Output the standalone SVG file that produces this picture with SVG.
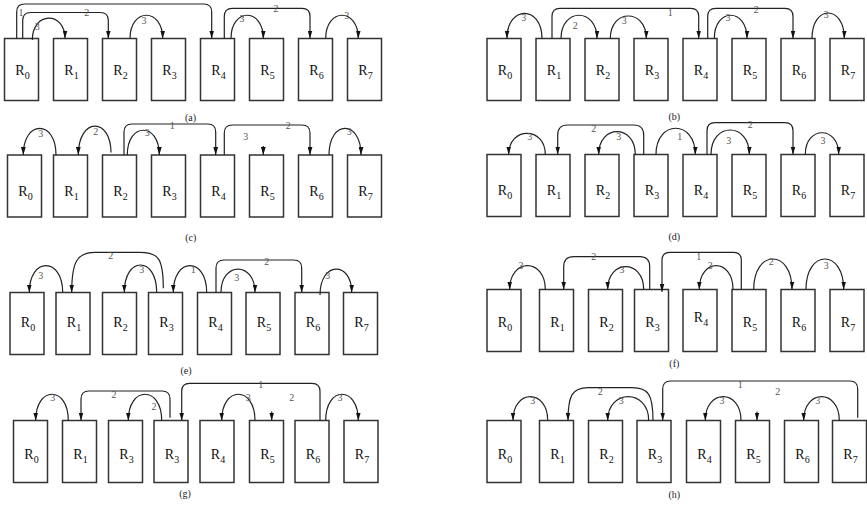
<svg xmlns="http://www.w3.org/2000/svg" width="867" height="506" viewBox="0 0 867 506">
<style>
.bx{fill:#fff;stroke:#333;stroke-width:1.5}
.nl{font-family:"Liberation Serif","Times New Roman","DejaVu Serif",serif;font-size:14px;fill:#111;text-anchor:middle}
.sb{font-size:10px}
.el{font-family:"Liberation Serif","Times New Roman","DejaVu Serif",serif;font-size:10px;fill:#555;text-anchor:middle}
.cap{font-family:"Liberation Serif","Times New Roman","DejaVu Serif",serif;font-size:10px;fill:#222;text-anchor:middle}
.c{fill:none;stroke:#222;stroke-width:1.2;marker-end:url(#ah)}
</style>
<defs>
<marker id="ah" viewBox="0 0 10 6" refX="10" refY="3" markerWidth="8" markerHeight="5" orient="auto" markerUnits="userSpaceOnUse"><path d="M0,0 L10,3 L0,6 z" fill="#111"/></marker>
</defs>
<rect width="867" height="506" fill="#fff"/>

<!-- (a) -->
<g id="panel-a">
<g id="a-R0"><rect class="bx" x="4.5" y="38.5" width="34" height="62"/><text class="nl" x="22.5" y="75">R<tspan class="sb" dy="4">0</tspan></text></g>
<g id="a-R1"><rect class="bx" x="53.5" y="38.5" width="34" height="62"/><text class="nl" x="71.5" y="75">R<tspan class="sb" dy="4">1</tspan></text></g>
<g id="a-R2"><rect class="bx" x="102.5" y="38.5" width="34" height="62"/><text class="nl" x="120.5" y="75">R<tspan class="sb" dy="4">2</tspan></text></g>
<g id="a-R3"><rect class="bx" x="151.5" y="38.5" width="34" height="62"/><text class="nl" x="169.5" y="75">R<tspan class="sb" dy="4">3</tspan></text></g>
<g id="a-R4"><rect class="bx" x="200.5" y="38.5" width="34" height="62"/><text class="nl" x="218.5" y="75">R<tspan class="sb" dy="4">4</tspan></text></g>
<g id="a-R5"><rect class="bx" x="249.5" y="38.5" width="34" height="62"/><text class="nl" x="267.5" y="75">R<tspan class="sb" dy="4">5</tspan></text></g>
<g id="a-R6"><rect class="bx" x="298.5" y="38.5" width="34" height="62"/><text class="nl" x="316.5" y="75">R<tspan class="sb" dy="4">6</tspan></text></g>
<g id="a-R7"><rect class="bx" x="347.5" y="38.5" width="34" height="62"/><text class="nl" x="365.5" y="75">R<tspan class="sb" dy="4">7</tspan></text></g>
<g id="a-connectors">
<path class="c" d="M16.7 38.5 V12 Q16.7 4 24.7 4 H203.7 Q211.7 4 211.7 12 V38.5"/>
<path class="c" d="M22.7 38.5 V20.5 Q22.7 12.5 30.7 12.5 H100.3 Q108.3 12.5 108.3 20.5 V38.5"/>
<path class="c" d="M32.3 40 C32.3 11.2 65 11.2 65 38.5"/>
<path class="c" d="M130 38.5 C130 7.5 162.7 7.5 162.7 38.5"/>
<path class="c" d="M224.3 38.5 V16.3 Q224.3 8.3 232.3 8.3 H302 Q310 8.3 310 16.3 V38.5"/>
<path class="c" d="M231 38.5 C231 7.5 263.3 7.5 263.3 38.5"/>
<path class="c" d="M325.7 38.5 C325.7 7.5 358.3 7.5 358.3 38.5"/>
<text class="el" x="21" y="15.5">1</text>
<text class="el" x="86.7" y="16.2">2</text>
<text class="el" x="37.3" y="30.2">3</text>
<text class="el" x="144" y="23.5">3</text>
<text class="el" x="276" y="11.8">2</text>
<text class="el" x="242" y="21.8">3</text>
<text class="el" x="346.7" y="18.5">3</text>
</g>
<text class="cap" x="190.5" y="120.5">(a)</text>
</g>

<!-- (b) -->
<g id="panel-b">
<g id="b-R0"><rect class="bx" x="487" y="38.5" width="34" height="62"/><text class="nl" x="505" y="75">R<tspan class="sb" dy="4">0</tspan></text></g>
<g id="b-R1"><rect class="bx" x="536" y="38.5" width="34" height="62"/><text class="nl" x="554" y="75">R<tspan class="sb" dy="4">1</tspan></text></g>
<g id="b-R2"><rect class="bx" x="585" y="38.5" width="34" height="62"/><text class="nl" x="603" y="75">R<tspan class="sb" dy="4">2</tspan></text></g>
<g id="b-R3"><rect class="bx" x="634" y="38.5" width="34" height="62"/><text class="nl" x="652" y="75">R<tspan class="sb" dy="4">3</tspan></text></g>
<g id="b-R4"><rect class="bx" x="683" y="38.5" width="34" height="62"/><text class="nl" x="701" y="75">R<tspan class="sb" dy="4">4</tspan></text></g>
<g id="b-R5"><rect class="bx" x="732" y="38.5" width="34" height="62"/><text class="nl" x="750" y="75">R<tspan class="sb" dy="4">5</tspan></text></g>
<g id="b-R6"><rect class="bx" x="781" y="38.5" width="34" height="62"/><text class="nl" x="799" y="75">R<tspan class="sb" dy="4">6</tspan></text></g>
<g id="b-R7"><rect class="bx" x="830" y="38.5" width="34" height="62"/><text class="nl" x="848" y="75">R<tspan class="sb" dy="4">7</tspan></text></g>
<g id="b-connectors">
<path class="c" d="M542 38.5 C542 4.9 507 4.9 507 38.5"/>
<path class="c" d="M552 38.5 V16.3 Q552 8.3 560 8.3 H690.7 Q698.7 8.3 698.7 16.3 V38.5"/>
<path class="c" d="M561 38.5 C561 7.5 597 7.5 597 38.5"/>
<path class="c" d="M610.3 38.5 C610.3 8.5 646.3 8.5 646.3 38.5"/>
<path class="c" d="M707.7 38.5 V16.3 Q707.7 8.3 715.7 8.3 H785 Q793 8.3 793 16.3 V38.5"/>
<path class="c" d="M714.3 38.5 C714.3 7.5 747 7.5 747 38.5"/>
<path class="c" d="M812 38.5 C812 4.5 844.3 4.5 844.3 38.5"/>
<text class="el" x="523.7" y="20.8">3</text>
<text class="el" x="670.3" y="16.2">1</text>
<text class="el" x="575.3" y="28.5">2</text>
<text class="el" x="624.3" y="24.2">3</text>
<text class="el" x="756.3" y="12.8">2</text>
<text class="el" x="728" y="20.8">3</text>
<text class="el" x="826.3" y="17.5">3</text>
</g>
<text class="cap" x="674.3" y="119.5">(b)</text>
</g>

<!-- (c) -->
<g id="panel-c">
<g id="c-R0"><rect class="bx" x="7.5" y="155" width="34" height="62"/><text class="nl" x="25.5" y="196">R<tspan class="sb" dy="4">0</tspan></text></g>
<g id="c-R1"><rect class="bx" x="53.5" y="155" width="34" height="62"/><text class="nl" x="71.5" y="196">R<tspan class="sb" dy="4">1</tspan></text></g>
<g id="c-R2"><rect class="bx" x="102.5" y="155" width="34" height="62"/><text class="nl" x="120.5" y="196">R<tspan class="sb" dy="4">2</tspan></text></g>
<g id="c-R3"><rect class="bx" x="151.5" y="155" width="34" height="62"/><text class="nl" x="169.5" y="196">R<tspan class="sb" dy="4">3</tspan></text></g>
<g id="c-R4"><rect class="bx" x="200.5" y="155" width="34" height="62"/><text class="nl" x="218.5" y="196">R<tspan class="sb" dy="4">4</tspan></text></g>
<g id="c-R5"><rect class="bx" x="249.5" y="155" width="34" height="62"/><text class="nl" x="267.5" y="196">R<tspan class="sb" dy="4">5</tspan></text></g>
<g id="c-R6"><rect class="bx" x="298.5" y="155" width="34" height="62"/><text class="nl" x="316.5" y="196">R<tspan class="sb" dy="4">6</tspan></text></g>
<g id="c-R7"><rect class="bx" x="347.5" y="155" width="34" height="62"/><text class="nl" x="365.5" y="196">R<tspan class="sb" dy="4">7</tspan></text></g>
<g id="c-connectors">
<path class="c" d="M56 155 C56 119.4 23.3 119.4 23.3 155"/>
<path class="c" d="M111 152.5 C111 117 78.3 117 78.3 155"/>
<path class="c" d="M124 155 V132 Q124 124 132 124 H207.7 Q215.7 124 215.7 132 V155"/>
<path class="c" d="M127.3 155 C127.3 122 159.3 122 159.3 155"/>
<path class="c" d="M224.3 155 V133 Q224.3 125 232.3 125 H302 Q310 125 310 133 V155"/>
<path class="c" d="M263.3 146 V155"/>
<path class="c" d="M329 155 C329 119.4 361 119.4 361 155"/>
<text class="el" x="40.7" y="136.8">3</text>
<text class="el" x="95.7" y="134.5">2</text>
<text class="el" x="172.3" y="128.5">1</text>
<text class="el" x="147.3" y="136.2">3</text>
<text class="el" x="288.3" y="128.5">2</text>
<text class="el" x="245.7" y="140.2">3</text>
<text class="el" x="349.3" y="135.2">3</text>
</g>
<text class="cap" x="190.7" y="240.8">(c)</text>
</g>

<!-- (d) -->
<g id="panel-d">
<g id="d-R0"><rect class="bx" x="487" y="154.5" width="34" height="62"/><text class="nl" x="505" y="195">R<tspan class="sb" dy="4">0</tspan></text></g>
<g id="d-R1"><rect class="bx" x="536" y="154.5" width="34" height="62"/><text class="nl" x="554" y="195">R<tspan class="sb" dy="4">1</tspan></text></g>
<g id="d-R2"><rect class="bx" x="585" y="154.5" width="34" height="62"/><text class="nl" x="603" y="195">R<tspan class="sb" dy="4">2</tspan></text></g>
<g id="d-R3"><rect class="bx" x="634" y="154.5" width="34" height="62"/><text class="nl" x="652" y="195">R<tspan class="sb" dy="4">3</tspan></text></g>
<g id="d-R4"><rect class="bx" x="683" y="154.5" width="34" height="62"/><text class="nl" x="701" y="195">R<tspan class="sb" dy="4">4</tspan></text></g>
<g id="d-R5"><rect class="bx" x="732" y="154.5" width="34" height="62"/><text class="nl" x="750" y="195">R<tspan class="sb" dy="4">5</tspan></text></g>
<g id="d-R6"><rect class="bx" x="781" y="154.5" width="34" height="62"/><text class="nl" x="799" y="195">R<tspan class="sb" dy="4">6</tspan></text></g>
<g id="d-R7"><rect class="bx" x="830" y="154.5" width="34" height="62"/><text class="nl" x="848" y="195">R<tspan class="sb" dy="4">7</tspan></text></g>
<g id="d-connectors">
<path class="c" d="M545.3 154.5 C545.3 126.2 508.7 126.2 508.7 154.5"/>
<path class="c" d="M643.7 154.5 V135 Q643.7 125 633.7 125 H567.7 Q557.7 125 557.7 135 V154.5"/>
<path class="c" d="M635.3 154.5 C635.3 124.1 598.7 124.1 598.7 154.5"/>
<path class="c" d="M656 154.5 C656 119.5 695.3 119.5 695.3 154.5"/>
<path class="c" d="M707 154.5 V130.7 Q707 122.7 715 122.7 H785 Q793 122.7 793 130.7 V154.5"/>
<path class="c" d="M711 154.5 C711 121.8 749.3 121.8 749.3 154.5"/>
<path class="c" d="M805.3 154.5 C805.3 125.5 838.7 125.5 838.7 154.5"/>
<text class="el" x="529.7" y="140.2">3</text>
<text class="el" x="593.7" y="131.8">2</text>
<text class="el" x="618.7" y="140.2">3</text>
<text class="el" x="679.7" y="140.2">1</text>
<text class="el" x="750.3" y="127.5">2</text>
<text class="el" x="728.7" y="144.2">3</text>
<text class="el" x="823" y="144.2">3</text>
</g>
<text class="cap" x="674.3" y="240.2">(d)</text>
</g>

<!-- (e) -->
<g id="panel-e">
<g id="e-R0"><rect class="bx" x="10" y="292.5" width="34" height="62"/><text class="nl" x="28" y="327">R<tspan class="sb" dy="4">0</tspan></text></g>
<g id="e-R1"><rect class="bx" x="56" y="292.5" width="34" height="62"/><text class="nl" x="74" y="327">R<tspan class="sb" dy="4">1</tspan></text></g>
<g id="e-R2"><rect class="bx" x="102.5" y="292.5" width="34" height="62"/><text class="nl" x="120.5" y="327">R<tspan class="sb" dy="4">2</tspan></text></g>
<g id="e-R3"><rect class="bx" x="148.5" y="292.5" width="34" height="62"/><text class="nl" x="166.5" y="327">R<tspan class="sb" dy="4">3</tspan></text></g>
<g id="e-R4"><rect class="bx" x="197.5" y="292.5" width="34" height="62"/><text class="nl" x="215.5" y="327">R<tspan class="sb" dy="4">4</tspan></text></g>
<g id="e-R5"><rect class="bx" x="246" y="292.5" width="34" height="62"/><text class="nl" x="264" y="327">R<tspan class="sb" dy="4">5</tspan></text></g>
<g id="e-R6"><rect class="bx" x="295" y="292.5" width="34" height="62"/><text class="nl" x="313" y="327">R<tspan class="sb" dy="4">6</tspan></text></g>
<g id="e-R7"><rect class="bx" x="343.5" y="292.5" width="34" height="62"/><text class="nl" x="361.5" y="327">R<tspan class="sb" dy="4">7</tspan></text></g>
<g id="e-connectors">
<path class="c" d="M62.7 292.5 C62.7 256.8 29.3 256.8 29.3 292.5"/>
<path class="c" d="M163.3 288.3 C163.3 258 158 252.3 140 252.3 H95 C77 252.3 71.7 262 71.7 292.5"/>
<path class="c" d="M156.7 292.5 C156.7 255.8 124.3 255.8 124.3 292.5"/>
<path class="c" d="M206.7 292.5 C206.7 256.8 173.3 256.8 173.3 292.5"/>
<path class="c" d="M216 292.5 V268 Q216 260 224 260 H293.7 Q301.7 260 301.7 268 V292.5"/>
<path class="c" d="M221 292.5 C221 261.2 255 261.2 255 292.5"/>
<path class="c" d="M320 295 C320 260.8 351.7 260.8 351.7 292.5"/>
<text class="el" x="40.7" y="278.5">3</text>
<text class="el" x="110.7" y="259.2">2</text>
<text class="el" x="141.7" y="272.5">3</text>
<text class="el" x="193.3" y="272.5">1</text>
<text class="el" x="266.7" y="265.2">2</text>
<text class="el" x="236.7" y="280.8">3</text>
<text class="el" x="327.7" y="278.5">3</text>
</g>
<text class="cap" x="186" y="373.5">(e)</text>
</g>

<!-- (f) -->
<g id="panel-f">
<g id="f-R0"><rect class="bx" x="487" y="289.5" width="34" height="62"/><text class="nl" x="505" y="327">R<tspan class="sb" dy="4">0</tspan></text></g>
<g id="f-R1"><rect class="bx" x="539.5" y="289.5" width="34" height="62"/><text class="nl" x="557.5" y="327">R<tspan class="sb" dy="4">1</tspan></text></g>
<g id="f-R2"><rect class="bx" x="588.5" y="289.5" width="34" height="62"/><text class="nl" x="606.5" y="327">R<tspan class="sb" dy="4">2</tspan></text></g>
<g id="f-R3"><rect class="bx" x="634.5" y="289.5" width="34" height="62"/><text class="nl" x="652.5" y="327">R<tspan class="sb" dy="4">3</tspan></text></g>
<g id="f-R4"><rect class="bx" x="683" y="289.5" width="34" height="62"/><text class="nl" x="701" y="322">R<tspan class="sb" dy="4">4</tspan></text></g>
<g id="f-R5"><rect class="bx" x="732" y="289.5" width="34" height="62"/><text class="nl" x="750" y="327">R<tspan class="sb" dy="4">5</tspan></text></g>
<g id="f-R6"><rect class="bx" x="781" y="289.5" width="34" height="62"/><text class="nl" x="799" y="327">R<tspan class="sb" dy="4">6</tspan></text></g>
<g id="f-R7"><rect class="bx" x="830" y="289.5" width="34" height="62"/><text class="nl" x="848" y="327">R<tspan class="sb" dy="4">7</tspan></text></g>
<g id="f-connectors">
<path class="c" d="M545.3 289.5 C545.3 257.8 509.7 257.8 509.7 289.5"/>
<path class="c" d="M649.7 289.5 V266.7 Q649.7 256.7 639.7 256.7 H573.7 Q563.7 256.7 563.7 266.7 V289.5"/>
<path class="c" d="M643.7 289.5 C643.7 259.1 607.7 259.1 607.7 289.5"/>
<path class="c" d="M741.3 289.5 V260.3 Q741.3 252.3 733.3 252.3 H670 Q662 252.3 662 260.3 V291.7"/>
<path class="c" d="M733 289.5 C733 257.8 699.3 257.8 699.3 289.5"/>
<path class="c" d="M753.7 289.5 C753.7 248.8 792 248.8 792 289.5"/>
<path class="c" d="M806 289.5 C806 248.8 843.7 248.8 843.7 289.5"/>
<text class="el" x="521" y="268.5">3</text>
<text class="el" x="593.7" y="260.2">2</text>
<text class="el" x="622" y="272.5">3</text>
<text class="el" x="698.7" y="260.2">1</text>
<text class="el" x="710.3" y="268.5">3</text>
<text class="el" x="771.3" y="265.2">2</text>
<text class="el" x="826.3" y="268.5">3</text>
</g>
<text class="cap" x="674.3" y="366.8">(f)</text>
</g>

<!-- (g) -->
<g id="panel-g">
<g id="g-R0"><rect class="bx" x="13.5" y="420.5" width="34" height="62"/><text class="nl" x="31.5" y="459">R<tspan class="sb" dy="4">0</tspan></text></g>
<g id="g-R1"><rect class="bx" x="62.5" y="420.5" width="34" height="62"/><text class="nl" x="80.5" y="459">R<tspan class="sb" dy="4">1</tspan></text></g>
<g id="g-R3a"><rect class="bx" x="108.5" y="420.5" width="34" height="62"/><text class="nl" x="126.5" y="459">R<tspan class="sb" dy="4">3</tspan></text></g>
<g id="g-R3"><rect class="bx" x="154" y="420.5" width="34" height="62"/><text class="nl" x="172" y="459">R<tspan class="sb" dy="4">3</tspan></text></g>
<g id="g-R4"><rect class="bx" x="200" y="420.5" width="34" height="62"/><text class="nl" x="218" y="459">R<tspan class="sb" dy="4">4</tspan></text></g>
<g id="g-R5"><rect class="bx" x="249.5" y="420.5" width="34" height="62"/><text class="nl" x="267.5" y="459">R<tspan class="sb" dy="4">5</tspan></text></g>
<g id="g-R6"><rect class="bx" x="295" y="420.5" width="34" height="62"/><text class="nl" x="313" y="459">R<tspan class="sb" dy="4">6</tspan></text></g>
<g id="g-R7"><rect class="bx" x="344" y="420.5" width="34" height="62"/><text class="nl" x="362" y="459">R<tspan class="sb" dy="4">7</tspan></text></g>
<g id="g-connectors">
<path class="c" d="M68.3 420.5 C68.3 385.5 35.7 385.5 35.7 420.5"/>
<path class="c" d="M170 417.7 V399 Q170 391 162 391 H89 Q81 391 81 399 V420.5"/>
<path class="c" d="M161.7 420.5 C161.7 385.5 128.3 385.5 128.3 420.5"/>
<path class="c" d="M320 420.5 V391.3 Q320 383.3 312 383.3 H189.7 Q181.7 383.3 181.7 391.3 V420.5"/>
<path class="c" d="M255 420.5 C255 385.5 221.7 385.5 221.7 420.5"/>
<path class="c" d="M271.7 411.5 V420.5"/>
<path class="c" d="M325.7 420.5 C325.7 385.5 358.3 385.5 358.3 420.5"/>
<text class="el" x="52.7" y="401.2">3</text>
<text class="el" x="114" y="397.8">2</text>
<text class="el" x="154" y="410.2">2</text>
<text class="el" x="260.7" y="387.8">1</text>
<text class="el" x="248.3" y="401.2">3</text>
<text class="el" x="291.7" y="401.2">2</text>
<text class="el" x="340" y="401.2">3</text>
</g>
<text class="cap" x="185" y="496.8">(g)</text>
</g>

<!-- (h) -->
<g id="panel-h">
<g id="h-R0"><rect class="bx" x="487" y="420.5" width="34" height="62"/><text class="nl" x="505" y="459">R<tspan class="sb" dy="4">0</tspan></text></g>
<g id="h-R1"><rect class="bx" x="539.5" y="420.5" width="34" height="62"/><text class="nl" x="557.5" y="459">R<tspan class="sb" dy="4">1</tspan></text></g>
<g id="h-R2"><rect class="bx" x="588.5" y="420.5" width="34" height="62"/><text class="nl" x="606.5" y="459">R<tspan class="sb" dy="4">2</tspan></text></g>
<g id="h-R3"><rect class="bx" x="637" y="420.5" width="34" height="62"/><text class="nl" x="655" y="459">R<tspan class="sb" dy="4">3</tspan></text></g>
<g id="h-R4"><rect class="bx" x="686.5" y="420.5" width="34" height="62"/><text class="nl" x="704.5" y="459">R<tspan class="sb" dy="4">4</tspan></text></g>
<g id="h-R5"><rect class="bx" x="735.5" y="420.5" width="34" height="62"/><text class="nl" x="753.5" y="459">R<tspan class="sb" dy="4">5</tspan></text></g>
<g id="h-R6"><rect class="bx" x="784.5" y="420.5" width="34" height="62"/><text class="nl" x="802.5" y="459">R<tspan class="sb" dy="4">6</tspan></text></g>
<g id="h-R7"><rect class="bx" x="832.5" y="420.5" width="34" height="62"/><text class="nl" x="850.5" y="459">R<tspan class="sb" dy="4">7</tspan></text></g>
<g id="h-connectors">
<path class="c" d="M547.7 420.5 C547.7 388.8 513 388.8 513 420.5"/>
<path class="c" d="M653 420.5 C653 394 648 387.7 632 387.7 H588 C572 387.7 568 396 568 420.5"/>
<path class="c" d="M648.7 420.5 C648.7 388.8 607.7 388.8 607.7 420.5"/>
<path class="c" d="M857.7 417.7 V389 Q857.7 381 849.7 381 H670.7 Q662.7 381 662.7 389 V420.5"/>
<path class="c" d="M757 411.5 V420.5"/>
<path class="c" d="M741 420.5 C741 388.8 705.3 388.8 705.3 420.5"/>
<path class="c" d="M839.3 420.5 C839.3 388.8 803.7 388.8 803.7 420.5"/>
<text class="el" x="532.7" y="403.5">3</text>
<text class="el" x="600.3" y="394.5">2</text>
<text class="el" x="621.3" y="403.5">3</text>
<text class="el" x="740.3" y="387.8">1</text>
<text class="el" x="777.7" y="394.5">2</text>
<text class="el" x="722" y="403.5">3</text>
<text class="el" x="817.7" y="403.5">3</text>
</g>
<text class="cap" x="674.3" y="497.8">(h)</text>
</g>
</svg>
